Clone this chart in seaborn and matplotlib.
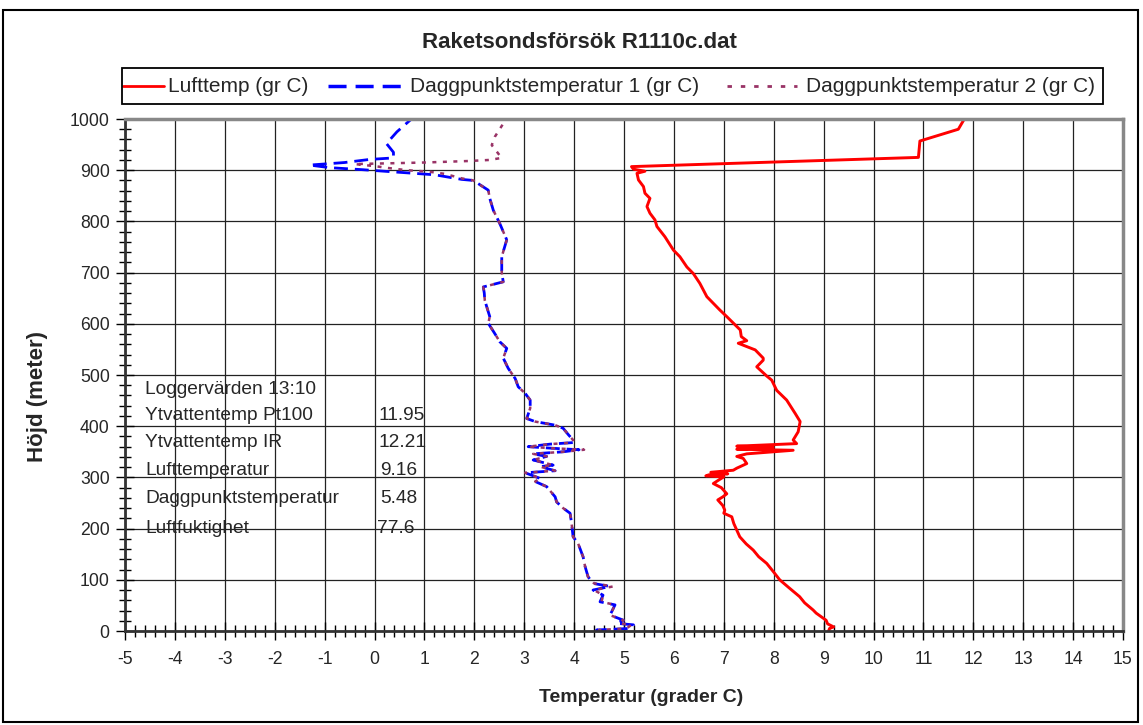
import numpy as np
import pandas as pd
import matplotlib
matplotlib.use("Agg")
import matplotlib.pyplot as plt
import seaborn as sns
from matplotlib.ticker import MultipleLocator
from matplotlib.patches import Rectangle
from matplotlib.lines import Line2D

# ---------------- data ----------------
luft_h = [0, 5, 8, 14, 21, 35, 41, 55, 67, 85, 100, 115, 132, 145, 158, 170, 184, 197,
          210, 223, 230, 236, 245, 256, 262, 268, 280, 288, 295, 301, 303, 305, 307, 310,
          314, 318, 327, 337, 341, 346, 353, 355, 359, 361, 366, 373, 389, 409, 425, 451,
          470, 490, 498, 516, 529, 533, 549, 562, 567, 575, 588, 614, 627, 653, 679, 698,
          711, 731, 744, 770, 790, 803, 816, 829, 845, 855, 868, 881, 894, 898, 902, 907,
          925, 957, 980, 1000, 1015]
luft_t = [9.10, 9.12, 9.20, 9.08, 9.05, 8.85, 8.79, 8.62, 8.52, 8.30, 8.12, 8.00, 7.86,
          7.70, 7.59, 7.45, 7.32, 7.26, 7.20, 7.16, 7.00, 7.02, 6.98, 6.88, 6.98, 7.06,
          6.95, 6.79, 6.90, 7.00, 6.64, 6.70, 7.08, 6.74, 7.19, 7.26, 7.46, 7.39, 7.26,
          7.46, 8.39, 7.26, 7.99, 7.26, 8.46, 8.39, 8.49, 8.53, 8.43, 8.26, 8.06, 7.96,
          7.86, 7.66, 7.79, 7.79, 7.63, 7.29, 7.46, 7.35, 7.33, 7.06, 6.92, 6.66, 6.52,
          6.39, 6.26, 6.12, 5.99, 5.82, 5.66, 5.62, 5.52, 5.46, 5.52, 5.42, 5.39, 5.29,
          5.26, 5.42, 5.19, 5.15, 10.90, 10.93, 11.70, 11.82, 11.90]

dagg1_h = [0, 2, 5, 12, 15, 21, 31, 51, 57, 70, 80, 87, 93, 106, 126, 145, 171, 184,
           210, 230, 240, 252, 262, 282, 292, 298, 309, 313, 321, 324, 334, 341, 346,
           350, 354, 357, 360, 365, 368, 373, 384, 396, 402, 409, 415, 435, 451, 464,
           477, 493, 513, 533, 552, 565, 581, 601, 614, 633, 646, 660, 672, 682, 700,
           731, 764, 796, 822, 845, 861, 880, 882, 891, 901, 905, 910, 915, 921, 924,
           935, 952, 975, 1000]
dagg1_t = [4.52, 4.45, 5.12, 5.19, 4.85, 4.99, 4.72, 4.82, 4.52, 4.58, 4.38, 4.72, 4.38,
           4.28, 4.22, 4.18, 4.08, 3.98, 3.95, 3.92, 3.78, 3.65, 3.62, 3.45, 3.22, 3.32,
           3.02, 3.62, 3.32, 3.58, 3.18, 3.45, 3.18, 3.78, 4.10, 3.55, 3.08, 3.52, 3.98,
           3.98, 3.88, 3.78, 3.62, 3.22, 3.05, 3.12, 3.12, 3.02, 2.88, 2.82, 2.68, 2.58,
           2.65, 2.51, 2.41, 2.28, 2.31, 2.25, 2.21, 2.20, 2.18, 2.58, 2.55, 2.55, 2.65,
           2.51, 2.38, 2.31, 2.28, 1.98, 1.75, 1.21, -0.24, -0.90, -1.30, -0.60, -0.10,
           0.38, 0.38, 0.24, 0.45, 0.74]

dagg2_h = [0, 2, 5, 12, 15, 21, 31, 51, 57, 70, 80, 87, 93, 106, 126, 145, 171, 184,
           210, 230, 240, 252, 262, 282, 292, 298, 309, 313, 321, 324, 334, 341, 346,
           350, 354, 357, 360, 365, 368, 373, 384, 396, 402, 409, 415, 435, 451, 464,
           477, 493, 513, 533, 552, 565, 581, 601, 614, 633, 646, 660, 672, 682, 700,
           731, 764, 796, 822, 845, 861, 880, 884, 893, 897, 900, 904, 908, 912, 915,
           918, 920, 924, 930, 949, 965, 991]
dagg2_t = [4.55, 4.50, 5.05, 5.15, 4.90, 4.99, 4.72, 4.82, 4.55, 4.58, 4.40, 4.78, 4.40,
           4.28, 4.22, 4.18, 4.08, 3.98, 3.95, 3.92, 3.78, 3.65, 3.62, 3.45, 3.22, 3.32,
           3.02, 3.62, 3.32, 3.58, 3.18, 3.45, 3.18, 3.78, 4.20, 3.55, 3.08, 3.52, 3.98,
           3.98, 3.88, 3.78, 3.62, 3.22, 3.05, 3.12, 3.12, 3.02, 2.88, 2.82, 2.68, 2.58,
           2.65, 2.51, 2.41, 2.28, 2.31, 2.25, 2.21, 2.20, 2.18, 2.58, 2.55, 2.55, 2.65,
           2.51, 2.38, 2.31, 2.28, 1.98, 1.75, 1.40, 1.10, 0.65, 0.30, 0.00, -0.40, 1.00,
           1.90, 2.30, 2.55, 2.50, 2.35, 2.41, 2.58]

series_names = ["Lufttemp (gr C)", "Daggpunktstemperatur 1 (gr C)", "Daggpunktstemperatur 2 (gr C)"]

info_labels = ["Loggervärden 13:10", "Ytvattentemp Pt100", "Ytvattentemp IR",
               "Lufttemperatur", "Daggpunktstemperatur", "Luftfuktighet"]
info_values = ["", "11.95", "12.21", "9.16", "5.48", "77.6"]

x_ticks = list(range(-5, 16))
y_ticks = list(range(0, 1001, 100))

# ---------------- style ----------------
sns.set_style("white")
plt.rcParams["font.family"] = ["Liberation Sans", "DejaVu Sans"]
plt.rcParams["axes.unicode_minus"] = False

W, H = 1143, 725
fig = plt.figure(figsize=(W / 100, H / 100), dpi=100)
ax = fig.add_axes([125 / W, (H - 631) / H, 998 / W, 512 / H])

red = "#FF0000"
blue = "#0000FF"
purple = "#993366"

df1 = pd.DataFrame({"T": luft_t, "h": luft_h})
df2 = pd.DataFrame({"T": dagg1_t, "h": dagg1_h})
df3 = pd.DataFrame({"T": dagg2_t, "h": dagg2_h})

sns.lineplot(data=df1, x="T", y="h", sort=False, estimator=None, color=red, lw=2.1, ax=ax)
sns.lineplot(data=df2, x="T", y="h", sort=False, estimator=None, color=blue, lw=2.0, ax=ax)
ax.lines[-1].set_dashes((5, 2.5))
sns.lineplot(data=df3, x="T", y="h", sort=False, estimator=None, color=purple, lw=1.8, ax=ax)
ax.lines[-1].set_dashes((1.6, 2.6))

ax.set_xlim(-5, 15)
ax.set_ylim(0, 1000)
ax.set_xticks(x_ticks)
ax.set_yticks(y_ticks)
ax.xaxis.set_minor_locator(MultipleLocator(0.2))
ax.yaxis.set_minor_locator(MultipleLocator(20))
ax.grid(True, which="major", color="#222222", lw=0.9)
ax.set_axisbelow(True)

ax.tick_params(axis="both", which="major", direction="inout", length=13, width=1.0,
               color="black", labelsize=12.7, bottom=True, left=True)
ax.tick_params(axis="x", which="major", pad=8)
ax.tick_params(axis="y", which="major", pad=4.5)
ax.tick_params(axis="both", which="minor", direction="inout", length=9, width=1.0,
               color="black", bottom=True, left=True)

for s in ["left", "bottom"]:
    ax.spines[s].set_color("#333333")
    ax.spines[s].set_linewidth(2.0)
for s in ["top", "right"]:
    ax.spines[s].set_color("#888888")
    ax.spines[s].set_linewidth(2.5)

ax.set_xlabel("Temperatur (grader C)", fontsize=14, fontweight="bold", va="center")
ax.xaxis.set_label_coords((641 - 125) / 998, (631 - 697) / 512)
ax.set_ylabel("Höjd (meter)", fontsize=16, fontweight="bold", va="center")
ax.yaxis.set_label_coords((37 - 125) / 998, (631 - 396) / 512)

fig.text(579 / W, 1 - 42 / H, "Raketsondsförsök R1110c.dat",
         ha="center", va="center", fontsize=16, fontweight="bold")

# info text block
info_y = [472, 421, 369, 314, 258, 201]
val_px = [0, 378, 378, 380, 380, 377]
for lab, val, yy, vx in zip(info_labels, info_values, info_y, val_px):
    ax.text(-4.6, yy, lab, fontsize=13.8, ha="left", va="center")
    if val:
        ax.text(-5 + (vx - 125) / 49.9, yy, val, fontsize=13.8, ha="left", va="center")

# legend (drawn as a boxed key above the plot area, like the original)
def fx(px):
    return px / W

def fy(py):
    return 1 - py / H

fig.patches.append(Rectangle((fx(122), fy(104)), (1103 - 122) / W, 36 / H,
                             transform=fig.transFigure, fill=False,
                             edgecolor="black", lw=1.3, zorder=5))
leg_y = 86
key_specs = [
    (123, 164, 168, dict(color=red, lw=2.0)),
    (328, 402, 410, dict(color=blue, lw=2.5, dashes=(5.2, 2.6))),
    (727, 797, 806, dict(color=purple, lw=2.0, dashes=(1.6, 3.2))),
]
for name, (x0, x1, xt, kw) in zip(series_names, key_specs):
    fig.add_artist(Line2D([fx(x0), fx(x1)], [fy(leg_y), fy(leg_y)],
                          transform=fig.transFigure, **kw))
    fig.text(fx(xt), fy(leg_y), name, ha="left", va="center", fontsize=15)

# outer border
fig.patches.append(Rectangle((3 / W, 3 / H), 1135 / W, (722 - 10) / H,
                             transform=fig.transFigure, fill=False,
                             edgecolor="black", lw=1.5))

fig.savefig("out.png", dpi=100)
